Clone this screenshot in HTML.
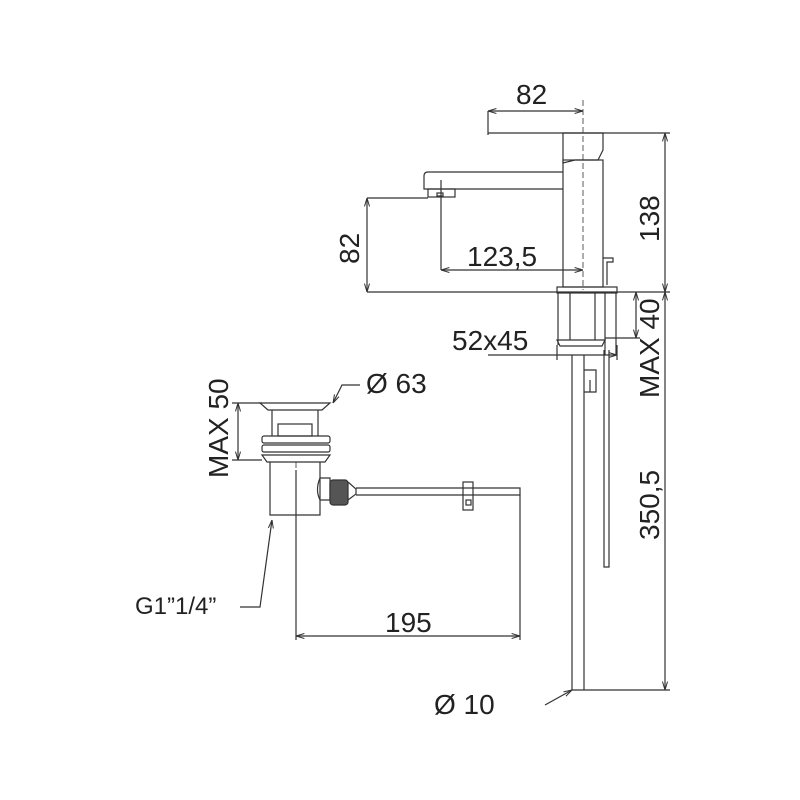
<!DOCTYPE html><html><head><style>body{margin:0;background:#fff}svg{display:block}text{font-family:"Liberation Sans",sans-serif;fill:#222}</style></head><body>
<svg width="800" height="800" viewBox="0 0 800 800" xmlns="http://www.w3.org/2000/svg" fill="none" stroke="#333" stroke-width="1.2">
<defs><marker id="a" viewBox="0 0 10 10" refX="10" refY="5" markerWidth="7" markerHeight="7" orient="auto-start-reverse"><path d="M0,2 L10,5 L0,8" fill="none" stroke="#333"/></marker></defs>
<path d="M488 111 V135 M488 133 H603"/>
<path d="M563 133 H603 V150 L598 160 H575 L563 163 Z"/>
<rect x="563" y="160" width="40" height="127"/>
<path d="M563 172 H428 Q424 172 424 176 V189 H563"/>
<rect x="428" y="189" width="27" height="8"/>
<rect x="437" y="193" width="6" height="3"/>
<path d="M603 258 H613 V262 H607 V285" />
<rect x="557" y="287" width="60" height="6"/>
<path d="M558 293 V345 M616 293 V355 M570 293 V340 M595 293 V340 M605 293 V355"/>
<path d="M557 340 H605 L602 346 H560 Z"/>
<path d="M572 355 V690 M584 355 V690 M572 690 H670"/>
<path d="M584 370 H596 V392 H584 M590 380 V392"/>
<path d="M604 350 V567 H609 V350"/>
<path d="M583 100 V290" stroke-dasharray="6 3" stroke-width="0.8"/>
<path d="M488 111 H583" marker-start="url(#a)" marker-end="url(#a)"/>
<path d="M367 198 H428 M367 292 H670 M603 133 H670"/>
<path d="M367 198 V292" marker-start="url(#a)" marker-end="url(#a)"/>
<path d="M441 180 V270"/>
<path d="M441 270 H583" marker-start="url(#a)" marker-end="url(#a)"/>
<path d="M665 133 V292" marker-start="url(#a)" marker-end="url(#a)"/>
<path d="M665 292 V690" marker-start="url(#a)" marker-end="url(#a)"/>
<path d="M636 292 V338" marker-start="url(#a)" marker-end="url(#a)"/>
<path d="M605 338 H640"/>
<path d="M488 355 H617" marker-end="url(#a)"/>
<path d="M557 345 V360 M617 345 V360"/>
<path d="M545 705 L572 690" marker-end="url(#a)"/>
<path d="M260 403 H330 L322 410 H268 Z"/>
<path d="M272 410 V436 M318 410 V436"/>
<rect x="278" y="424" width="34" height="12"/>
<rect x="262" y="436" width="68" height="7" rx="2"/>
<rect x="262" y="445" width="68" height="7" rx="2"/>
<path d="M262 455 H330 L325 462 H267 Z"/>
<path d="M270 462 V515 H320 V462"/>
<path d="M320 478 Q315 490 320 500 H330 V478 Z"/>
<rect x="330" y="480" width="18" height="25" rx="3" fill="#555"/>
<path d="M348 482 L356 489 V494 L348 500"/>
<path d="M356 488 H520 V495 H356"/>
<rect x="463" y="482" width="10" height="28"/>
<rect x="466" y="500" width="5" height="5"/>
<path d="M296 462 V640" stroke-dasharray="6 3" stroke-width="0.8"/>
<path d="M296 470 V640 M520 495 V640"/>
<path d="M296 636 H520" marker-start="url(#a)" marker-end="url(#a)"/>
<path d="M238 403 V460" marker-start="url(#a)" marker-end="url(#a)"/>
<path d="M232 403 H262 M232 460 H262"/>
<path d="M360 385 H342 L333 403" marker-end="url(#a)"/>
<path d="M240 607 H260 L272 520" marker-end="url(#a)"/>
</svg>
<svg width="800" height="800" style="position:absolute;left:0;top:0">
<g font-size="28">
<text x="516" y="104">82</text>
<text x="467" y="266">123,5</text>
<text x="452" y="350">52x45</text>
<text x="366" y="393">Ø 63</text>
<text x="385" y="632">195</text>
<text x="434" y="714">Ø 10</text>
<text font-size="24" x="135" y="614">G1”1/4”</text>
<text transform="translate(359,264) rotate(-90)">82</text>
<text transform="translate(659,242) rotate(-90)">138</text>
<text transform="translate(659,398) rotate(-90)">MAX 40</text>
<text transform="translate(659,540) rotate(-90)">350,5</text>
<text transform="translate(228,478) rotate(-90)">MAX 50</text>
</g></svg>
</body></html>
